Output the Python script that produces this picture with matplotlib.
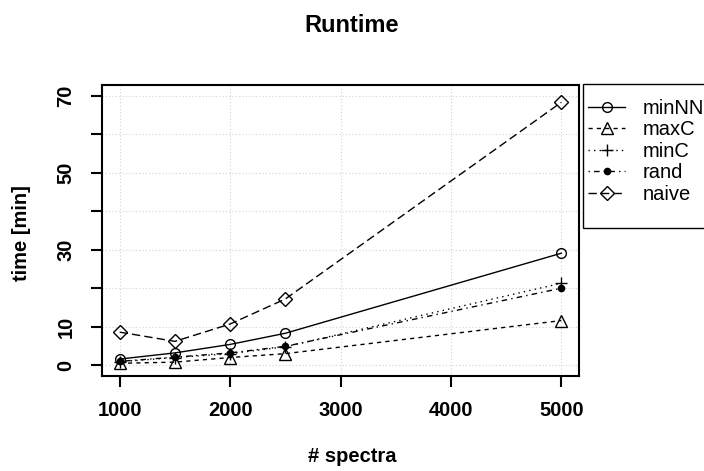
import matplotlib.pyplot as plt
from matplotlib.patches import Rectangle

plt.rcParams['font.family'] = ['Liberation Sans', 'DejaVu Sans']

# values
spectra = [1000, 1500, 2000, 2500, 5000]
minNN = [1.6, 3.2, 5.4, 8.3, 29.1]
maxC = [0.5, 0.8, 2.0, 3.0, 11.6]
minC = [0.9, 2.0, 3.0, 4.8, 21.3]
rand = [1.0, 2.1, 3.2, 4.9, 20.0]
naive = [8.6, 6.2, 10.7, 17.2, 68.3]

x_ticks = [1000, 2000, 3000, 4000, 5000]
y_ticks = [0, 10, 20, 30, 40, 50, 60, 70]
y_labels = ["0", "10", "", "30", "", "50", "", "70"]

fs = 14.5

fig = plt.figure(figsize=(7.04, 4.71), dpi=100)
ax = fig.add_axes([102/704, 1 - 376/471, 477/704, 291/471])

lw = 1.0
ax.plot(spectra, minNN, color="black", lw=lw, ls="-", marker="o", ms=7,
        mfc="none", mew=lw, label="minNN")
ax.plot(spectra, maxC, color="black", lw=lw, ls=(0, (3, 3)), marker="^", ms=8,
        mfc="none", mew=lw, label="maxC")
ax.plot(spectra, minC, color="black", lw=lw, ls=(0, (1, 3)), marker="+", ms=9,
        mew=lw, label="minC")
ax.plot(spectra, rand, color="black", lw=lw, ls=(0, (1, 3, 4, 3)), marker="o", ms=4.5,
        mfc="black", mew=lw, label="rand")
ax.plot(spectra, naive, color="black", lw=lw, ls=(0, (6, 3)), marker="D", ms=7,
        mfc="none", mew=lw, label="naive")

ax.set_xlim(840, 5160)
ax.set_ylim(-2.8, 72.8)

# grid like R's grid()
ax.set_xticks(x_ticks)
ax.set_yticks(y_ticks)
ax.set_yticklabels(y_labels, rotation=90, va="center")
ax.grid(True, color="lightgray", ls=(0, (1, 2)), lw=0.8)
ax.set_axisbelow(True)

for s in ax.spines.values():
    s.set_linewidth(1.5)
ax.tick_params(axis="both", length=8, width=1.5, labelsize=fs, color="black")
ax.tick_params(axis="x", pad=10)
ax.tick_params(axis="y", pad=11)
for t in ax.get_xticklabels() + ax.get_yticklabels():
    t.set_fontweight("bold")

fig.text(0.5, 1 - 26/471, "Runtime", ha="center", va="center", fontsize=17, fontweight="bold")
fig.text(0.5, 1 - 457/471, "# spectra", ha="center", va="center", fontsize=fs, fontweight="bold")
fig.text(22/704, 1 - 233/471, "time [min]", ha="center", va="center", rotation=90,
         fontsize=fs, fontweight="bold")

# legend without frame, box drawn separately (R style padding)
ax.legend(loc="upper left", bbox_to_anchor=(1.019, 0.952), fontsize=fs,
          frameon=False, handlelength=1.85, handletextpad=0.85, labelspacing=0.12,
          borderpad=0, borderaxespad=0)
fig.patches.append(Rectangle((583/704, 1 - 228/471), 130/704, 144/471,
                             transform=fig.transFigure, fill=False,
                             edgecolor="black", lw=1.0))

fig.savefig("out.png", dpi=100)
